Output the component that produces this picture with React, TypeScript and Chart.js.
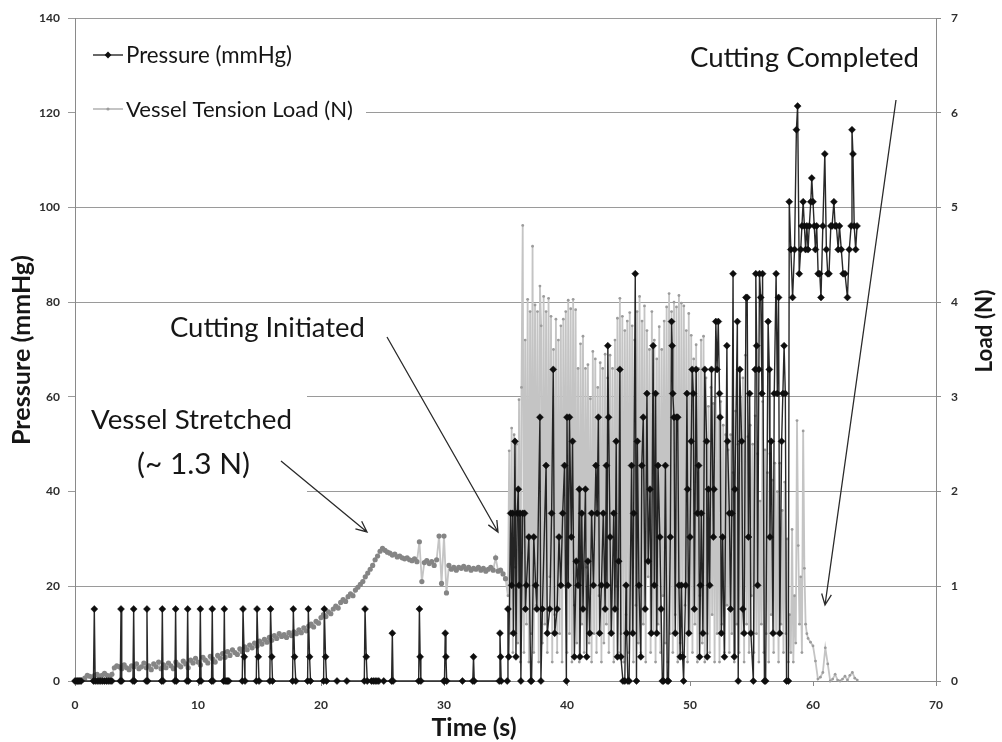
import React, { useEffect, useRef } from 'react';
import { Chart, registerables } from 'chart.js';

Chart.register(...registerables);

const FONT = 'Lato, "Open Sans", "DejaVu Sans", sans-serif';

// ---------- axes ----------
const X_MIN = 0;
const X_MAX = 70;
const X_STEP = 10;
const PRESSURE_MIN = 0;
const PRESSURE_MAX = 140;
const PRESSURE_STEP = 20;
const LOAD_MIN = 0;
const LOAD_MAX = 7;
const LOAD_STEP = 1;

const seriesLabels = ['Pressure (mmHg)', 'Vessel Tension Load (N)'];
const xTitle = 'Time (s)';
const yTitle = 'Pressure (mmHg)';
const y1Title = 'Load (N)';
const noteCompleted = 'Cutting Completed';
const noteInitiated = 'Cutting Initiated';
const noteStretched1 = 'Vessel Stretched';
const noteStretched2 = '(~ 1.3 N)';

// ---------- pressure (mmHg), [time s, value] ----------
const pressureBaseline: [number, number][] = [
  [0, 0], [0.1, 0], [0.2, 0], [0.3, 0], [0.4, 0], [0.5, 0],
  [1.5, 0], [1.57, 15.2], [1.64, 0], [1.8, 0], [1.95, 0], [2.1, 0], [2.25, 0], [2.4, 0], [2.55, 0], [2.7, 0], [2.85, 0], [3.0, 0],
  [3.68, 0], [3.74, 15.2], [3.8, 0],
  [4.71, 0], [4.77, 15.2], [4.83, 0],
  [5.79, 0], [5.85, 15.2], [5.91, 0],
  [7.04, 0], [7.1, 15.2], [7.16, 0],
  [8.12, 0], [8.18, 15.2], [8.24, 0],
  [9.1, 0], [9.16, 15.2], [9.22, 0],
  [10.13, 0], [10.19, 15.2], [10.25, 0],
  [11.1, 0], [11.16, 15.2], [11.22, 0],
  [12.08, 0], [12.14, 15.2], [12.2, 0], [12.3, 0], [12.4, 0], [12.5, 0],
  [13.6, 0], [13.66, 15.2], [13.76, 5.1], [13.82, 0],
  [14.74, 0], [14.8, 15.2], [14.9, 5.1], [14.96, 0],
  [15.84, 0], [15.9, 15.2], [16.0, 5.1], [16.06, 0],
  [17.69, 0], [17.75, 15.2], [17.85, 5.1], [17.95, 0],
  [18.91, 0], [18.97, 15.2], [19.07, 5.1], [19.15, 0],
  [20.21, 0], [20.27, 15.2], [20.37, 5.1], [20.45, 0],
  [21.3, 0], [22.1, 0],
  [23.52, 0], [23.58, 15.2], [23.68, 5.1], [23.76, 0],
  [24.1, 0], [24.25, 0], [24.4, 0], [24.55, 0], [24.7, 0], [25.1, 0],
  [25.74, 0], [25.8, 10.1], [25.86, 0],
  [27.94, 0], [28.0, 15.2], [28.06, 5.1], [28.12, 0],
  [29.98, 0], [30.04, 0], [30.1, 10.1], [30.16, 5.1], [30.22, 0],
  [31.5, 0],
  [32.34, 0], [32.4, 5.1], [32.46, 0],
  [34.49, 0], [34.55, 10.1], [34.6, 5.1], [34.65, 0],
  [35.14, 0], [35.2, 15.2], [35.26, 5.1],
];

const pressureCutting: [number, number][] = [
  [35.42, 35.4], [35.5, 20.2], [35.58, 35.4], [35.65, 10.1], [35.77, 50.6], [35.85, 5.1], [35.95, 35.4], [36.04, 40.5],
  [36.1, 20.2], [36.18, 35.4], [36.25, 0], [36.4, 35.4], [36.55, 35.4], [36.62, 15.2], [36.7, 20.2], [36.9, 30.4],
  [37.05, 0], [37.12, 0], [37.3, 30.4], [37.45, 20.2], [37.55, 15.2], [37.8, 55.7], [37.88, 0], [38.0, 15.2],
  [38.3, 45.5], [38.4, 10.1], [38.6, 15.2], [38.75, 35.4], [38.88, 65.8], [39.0, 10.1], [39.2, 15.2], [39.35, 30.4],
  [39.5, 20.2], [39.65, 35.4], [39.8, 45.5], [39.95, 0], [40.0, 55.7], [40.1, 20.2], [40.2, 55.7], [40.35, 30.4],
  [40.45, 50.6], [40.6, 5.1], [40.75, 25.3], [40.9, 20.2], [41.0, 40.5], [41.05, 5.1], [41.2, 35.4], [41.3, 15.2],
  [41.5, 40.5], [41.6, 5.1], [41.7, 25.3], [41.85, 10.1], [42.0, 35.4], [42.15, 20.2], [42.35, 45.5], [42.45, 35.4],
  [42.55, 55.7], [42.65, 10.1], [42.8, 20.2], [42.95, 35.4], [43.1, 15.2], [43.2, 45.5], [43.25, 20.2], [43.32, 70.8],
  [43.38, 55.7], [43.5, 30.4], [43.6, 10.1], [43.8, 35.4], [43.9, 15.2], [44.0, 50.6], [44.1, 5.1], [44.2, 25.3],
  [44.3, 65.8], [44.38, 5.1], [44.55, 0], [44.7, 0], [44.8, 20.2], [44.85, 10.1], [44.95, 0], [45.05, 0],
  [45.25, 45.5], [45.35, 10.1], [45.42, 35.4], [45.55, 86], [45.65, 0], [45.72, 50.6], [45.85, 20.2], [46.0, 5.1],
  [46.08, 45.5], [46.2, 55.7], [46.35, 15.2], [46.5, 60.7], [46.6, 25.3], [46.75, 40.5], [46.85, 10.1], [47.0, 70.8],
  [47.1, 20.2], [47.2, 60.7], [47.3, 10.1], [47.4, 45.5], [47.55, 30.4], [47.65, 15.2], [47.75, 0], [47.85, 0],
  [48.0, 45.5], [48.15, 0], [48.25, 0], [48.4, 30.4], [48.5, 75.9], [48.55, 70.8], [48.6, 60.7], [48.7, 55.7],
  [48.8, 10.1], [48.9, 55.7], [49.0, 55.7], [49.1, 20.2], [49.2, 5.1], [49.3, 20.2], [49.4, 5.1], [49.48, 0],
  [49.65, 20.2], [49.75, 60.7], [49.8, 40.5], [49.9, 10.1], [50.0, 30.4], [50.1, 50.6], [50.18, 65.8], [50.27, 60.7],
  [50.35, 15.2], [50.5, 65.8], [50.6, 35.4], [50.7, 45.5], [50.78, 5.1], [50.85, 20.2], [50.92, 35.4], [51.05, 10.1],
  [51.2, 65.8], [51.35, 50.6], [51.4, 5.1], [51.5, 40.5], [51.6, 20.2], [51.75, 65.8], [51.9, 30.4], [51.95, 40.5],
  [52.1, 75.9], [52.2, 65.8], [52.3, 75.9], [52.4, 60.7], [52.45, 55.7], [52.55, 10.1], [52.65, 30.4], [52.8, 5.1],
  [53.0, 70.8], [53.05, 50.6], [53.2, 35.4], [53.3, 15.2], [53.4, 35.4], [53.5, 86], [53.6, 5.1], [53.65, 40.5],
  [53.85, 75.9], [53.92, 0], [54.05, 65.8], [54.2, 50.6], [54.3, 15.2], [54.4, 10.1], [54.55, 81], [54.65, 81],
  [54.75, 30.4], [54.85, 60.7], [54.95, 10.1], [55.15, 0], [55.3, 65.8], [55.35, 86], [55.42, 70.8], [55.5, 20.2],
  [55.6, 65.8], [55.65, 86], [55.75, 81], [55.85, 60.7], [55.9, 86], [56.05, 0], [56.15, 0], [56.35, 75.9],
  [56.45, 65.8], [56.5, 30.4], [56.6, 50.6], [56.75, 10.1], [56.85, 60.7], [57.0, 86], [57.1, 60.7], [57.2, 81],
  [57.3, 10.1], [57.45, 50.6], [57.55, 60.7], [57.65, 70.8], [57.75, 60.7], [57.85, 0], [58.0, 0],
];

const pressureCompleted: [number, number][] = [
  [58.07, 101.2], [58.2, 91.1], [58.34, 81], [58.5, 91.1], [58.65, 116.4], [58.75, 121.4], [58.88, 86], [59.0, 91.1],
  [59.1, 96.1], [59.2, 101.2], [59.3, 96.1], [59.4, 91.1], [59.5, 96.1], [59.6, 91.1], [59.7, 96.1], [59.82, 101.2],
  [59.9, 106.2], [60.0, 101.2], [60.1, 96.1], [60.2, 91.1], [60.3, 96.1], [60.42, 86], [60.55, 86], [60.65, 81],
  [60.8, 96.1], [60.96, 111.3], [61.09, 91.1], [61.2, 86], [61.3, 86], [61.45, 96.1], [61.55, 96.1], [61.7, 101.2],
  [61.8, 96.1], [61.9, 96.1], [62.05, 91.1], [62.15, 96.1], [62.3, 91.1], [62.45, 86], [62.6, 86], [62.8, 81],
  [62.95, 91.1], [63.1, 96.1], [63.17, 116.4], [63.25, 111.3], [63.35, 96.1], [63.47, 91.1], [63.58, 96.1],
];

// ---------- vessel tension load (N), regularly sampled ----------
const loadRampStart = 0;
const loadRampStep = 0.2;
const loadRamp = [
  0, 0, 0.01, 0.01, 0.03, 0.06, 0.05, 0.04, 0.06, 0.07, 0.05, 0.06, 0.08, 0.06, 0.05, 0.07,
  0.14, 0.16, 0.15, 0.13, 0.17, 0.14, 0.12, 0.16, 0.15, 0.18,
  0.13, 0.15, 0.19, 0.14, 0.16, 0.12, 0.18, 0.15, 0.2, 0.13,
  0.17, 0.14, 0.19, 0.16, 0.13, 0.2, 0.17, 0.15, 0.21, 0.18,
  0.14, 0.22, 0.19, 0.24, 0.2, 0.17, 0.25, 0.22, 0.19, 0.26,
  0.23, 0.2, 0.27, 0.24, 0.29, 0.25, 0.31, 0.27, 0.33, 0.3,
  0.28, 0.34, 0.31, 0.36, 0.33, 0.38, 0.35, 0.4, 0.37, 0.42,
  0.39, 0.44, 0.41, 0.46, 0.43, 0.48, 0.45, 0.5, 0.47, 0.49,
  0.46, 0.51, 0.48, 0.52, 0.5, 0.54, 0.51, 0.56, 0.53, 0.58,
  0.6, 0.57, 0.63, 0.61, 0.67, 0.7, 0.68, 0.73, 0.71, 0.76,
  0.79, 0.77, 0.83, 0.86, 0.84, 0.89, 0.92, 0.9, 0.96, 0.99,
  1.02, 1.05, 1.1, 1.14, 1.18, 1.22, 1.28, 1.32, 1.37, 1.4,
  1.38, 1.36, 1.35, 1.33, 1.34, 1.31, 1.32, 1.3, 1.29, 1.3,
  1.28, 1.27, 1.29, 1.26, 1.47, 1.05, 1.25, 1.27, 1.24, 1.26,
  1.22, 1.28, 1.53, 1.03, 1.53, 0.93, 1.22, 1.18, 1.2, 1.17,
  1.2, 1.19, 1.21, 1.18, 1.2, 1.17, 1.19, 1.18, 1.2, 1.17,
  1.19, 1.16, 1.18, 1.2, 1.17, 1.3, 1.16, 1.17, 1.13, 1.08,
];

const loadCuttingStart = 35.2;
const loadCuttingStep = 0.1;
const loadCutting = [
  0.9, 2.43, 0.5, 2.67, 0.3, 2.6, 1.2, 2.5, 0.4, 2.97,
  0.2, 3.1, 4.81, 0.3, 3.6, 0.6, 4.03, 0.2, 3.9, 0.5,
  4.59, 0.3, 3.97, 0.8, 3.9, 0.2, 4.17, 3.75, 0.4, 4.06,
  0.6, 3.9, 0.3, 4.04, 1.1, 3.85, 0.2, 3.5, 0.7, 3.82,
  0.3, 3.6, 0.5, 3.75, 0.2, 3.82, 1.0, 3.9, 0.3, 4.02,
  0.5, 3.93, 0.2, 4.03, 0.8, 3.92, 0.4, 3.3, 0.2, 3.56,
  0.6, 3.64, 0.3, 3.3, 1.2, 3.34, 0.4, 2.98, 0.2, 3.48,
  0.5, 3.4, 0.3, 3.1, 0.9, 3.36, 0.2, 3.3, 0.4, 3.45,
  0.6, 3.2, 0.3, 3.44, 0.5, 3.3, 0.2, 3.6, 1.0, 3.83,
  0.3, 4.04, 0.5, 3.85, 0.2, 3.7, 0.7, 3.8, 0.3, 3.89,
  0.5, 3.75, 0.2, 3.6, 0.8, 3.9, 0.4, 4.06, 0.3, 3.8,
  0.6, 3.96, 0.2, 3.7, 1.1, 3.5, 0.3, 3.9, 0.5, 3.6,
  0.2, 3.4, 0.6, 3.74, 0.3, 3.5, 0.9, 3.8, 0.4, 3.95,
  0.2, 4.09, 0.5, 3.9, 0.3, 4.0, 0.7, 3.95, 0.2, 4.07,
  0.4, 3.99, 0.3, 3.96, 0.8, 3.7, 0.2, 3.88, 0.5, 3.65,
  0.3, 3.4, 0.6, 3.55, 0.2, 3.3, 0.9, 3.6, 0.4, 3.64,
  0.2, 3.2, 0.5, 2.9, 0.3, 3.1, 0.7, 2.93, 0.2, 3.0,
  0.5, 2.8, 0.2, 2.95, 0.6, 2.7, 0.3, 2.6, 0.8, 2.44,
  0.3, 2.6, 0.5, 2.2, 0.2, 2.85, 0.6, 2.5, 0.3, 3.0,
  0.5, 3.2, 0.2, 3.44, 0.6, 2.58, 0.3, 2.7, 0.9, 2.5,
  0.3, 2.8, 0.5, 2.4, 0.2, 1.9, 0.6, 2.95, 0.3, 2.44,
  0.5, 2.2, 0.2, 2.4, 0.7, 2.12, 0.3, 2.3, 0.5, 2.0,
  0.2, 2.3, 0.6, 1.8, 0.3, 2.1, 0.5, 1.5, 0.2, 0.7,
  0.3, 1.6, 0.2, 0.9, 0.4, 2.75, 1.43, 0.6, 1.1, 0.3,
  2.64, 1.19, 0.6, 0.5, 0.45,
];

const loadTailStart = 59.8;
const loadTailStep = 0.2;
const loadTail = [
  0.41, 0.37, 0.21, 0.02, 0.04, 0.09, 0.35, 0.18, 0.0, 0.02,
  0.07, 0.01, 0.0, 0.02, 0.05, 0.01, 0.06, 0.09, 0.03, 0.01,
];

// ---------- build points ----------
const toPts = (pairs: [number, number][]) => pairs.map(([x, y]) => ({ x, y }));
const sampled = (start: number, step: number, vals: number[]) =>
  vals.map((y, i) => ({ x: Math.round((start + i * step) * 1000) / 1000, y }));

const pressurePoints = [...toPts(pressureBaseline), ...toPts(pressureCutting), ...toPts(pressureCompleted)];
const loadPoints = [
  ...sampled(loadRampStart, loadRampStep, loadRamp),
  ...sampled(loadCuttingStart, loadCuttingStep, loadCutting),
  ...sampled(loadTailStart, loadTailStep, loadTail),
];

const GRID = '#9a9a9a';
const AXIS = '#8a8a8a';
const TICK_TEXT = '#2e2e2e';
const TEXT = '#161616';
const PRESSURE_LINE = 'rgba(22,22,22,0.92)';
const PRESSURE_MARK = '#0e0e0e';
const LOAD_LINE = '#c4c4c4';
const LOAD_MARK_RAMP = '#858585';
const LOAD_MARK_CUT = '#9c9c9c';

function fitFont(ctx: CanvasRenderingContext2D, text: string, width: number, weight: string) {
  ctx.font = `${weight} 20px ${FONT}`;
  const w = ctx.measureText(text).width || 1;
  const size = (20 * width) / w;
  ctx.font = `${weight} ${size.toFixed(2)}px ${FONT}`;
}

function arrow(ctx: CanvasRenderingContext2D, x1: number, y1: number, x2: number, y2: number) {
  const ang = Math.atan2(y2 - y1, x2 - x1);
  const head = 12;
  const spread = 0.42;
  ctx.beginPath();
  ctx.moveTo(x1, y1);
  ctx.lineTo(x2, y2);
  ctx.moveTo(x2 - head * Math.cos(ang - spread), y2 - head * Math.sin(ang - spread));
  ctx.lineTo(x2, y2);
  ctx.lineTo(x2 - head * Math.cos(ang + spread), y2 - head * Math.sin(ang + spread));
  ctx.stroke();
}

function diamond(ctx: CanvasRenderingContext2D, x: number, y: number, r: number) {
  ctx.beginPath();
  ctx.moveTo(x - r, y);
  ctx.lineTo(x, y - r);
  ctx.lineTo(x + r, y);
  ctx.lineTo(x, y + r);
  ctx.closePath();
  ctx.fill();
}

const overlayPlugin = {
  id: 'overlay',
  afterDraw(chart: any) {
    const ctx: CanvasRenderingContext2D = chart.ctx;
    ctx.save();

    // white label boxes (hide gridlines behind them)
    ctx.fillStyle = '#ffffff';
    ctx.fillRect(76, 28, 290, 100);
    ctx.fillRect(76, 390, 231, 106);

    // legend
    ctx.lineWidth = 1.4;
    ctx.strokeStyle = PRESSURE_LINE;
    ctx.beginPath();
    ctx.moveTo(93, 55);
    ctx.lineTo(123, 55);
    ctx.stroke();
    ctx.fillStyle = PRESSURE_MARK;
    diamond(ctx, 108, 55, 3.4);
    ctx.strokeStyle = LOAD_LINE;
    ctx.lineWidth = 2;
    ctx.beginPath();
    ctx.moveTo(93, 109);
    ctx.lineTo(123, 109);
    ctx.stroke();
    ctx.fillStyle = LOAD_MARK_CUT;
    ctx.beginPath();
    ctx.arc(108, 109, 1.6, 0, Math.PI * 2);
    ctx.fill();

    ctx.fillStyle = TEXT;
    ctx.textAlign = 'left';
    ctx.textBaseline = 'alphabetic';
    fitFont(ctx, seriesLabels[0], 166, 'normal');
    ctx.fillText(seriesLabels[0], 126, 63);
    fitFont(ctx, seriesLabels[1], 227, 'normal');
    ctx.fillText(seriesLabels[1], 126, 117);

    // annotations
    fitFont(ctx, noteCompleted, 229, 'normal');
    ctx.fillText(noteCompleted, 690, 67);
    fitFont(ctx, noteInitiated, 195, 'normal');
    ctx.fillText(noteInitiated, 170, 337);
    fitFont(ctx, noteStretched1, 201, 'normal');
    ctx.fillText(noteStretched1, 91, 429);
    fitFont(ctx, noteStretched2, 113, 'normal');
    ctx.fillText(noteStretched2, 137, 474);

    ctx.strokeStyle = '#2a2a2a';
    ctx.lineWidth = 1.3;
    arrow(ctx, 281, 461, 367, 532);
    arrow(ctx, 387, 337, 498, 532);
    arrow(ctx, 896, 100, 825, 605);

    // axis titles
    ctx.fillStyle = TEXT;
    ctx.textAlign = 'center';
    fitFont(ctx, xTitle, 85, 'bold');
    ctx.fillText(xTitle, 474, 736);

    ctx.textBaseline = 'middle';
    ctx.save();
    ctx.translate(22, 350);
    ctx.rotate(-Math.PI / 2);
    fitFont(ctx, yTitle, 190, 'bold');
    ctx.fillText(yTitle, 0, 0);
    ctx.restore();

    ctx.save();
    ctx.translate(985, 331);
    ctx.rotate(-Math.PI / 2);
    fitFont(ctx, y1Title, 83, 'bold');
    ctx.fillText(y1Title, 0, 0);
    ctx.restore();

    ctx.restore();
  },
};

export default function App() {
  const ref = useRef<HTMLCanvasElement | null>(null);

  useEffect(() => {
    const canvas = ref.current;
    if (!canvas) return;
    let chart: Chart | null = null;
    let cancelled = false;

    const build = () => {
      if (cancelled) return;
      const tickFont = { family: FONT, weight: 'bold' as const, size: 12 };
      const inRamp = (c: any) => c.raw && c.raw.x < loadCuttingStart;
      chart = new Chart(canvas, {
        type: 'line',
        data: {
          datasets: [
            {
              label: seriesLabels[0],
              data: pressurePoints,
              yAxisID: 'y',
              borderColor: PRESSURE_LINE,
              borderWidth: 1.4,
              pointStyle: 'rectRot',
              pointRadius: 3.5,
              pointBackgroundColor: PRESSURE_MARK,
              pointBorderColor: PRESSURE_MARK,
              pointBorderWidth: 0.5,
              tension: 0,
              clip: 8,
            },
            {
              label: seriesLabels[1],
              data: loadPoints,
              yAxisID: 'y1',
              borderColor: LOAD_LINE,
              borderWidth: 1.8,
              pointStyle: 'circle',
              pointRadius: (c: any) => (inRamp(c) ? 2.6 : 1.4),
              pointBackgroundColor: (c: any) => (inRamp(c) ? LOAD_MARK_RAMP : LOAD_MARK_CUT),
              pointBorderColor: (c: any) => (inRamp(c) ? LOAD_MARK_RAMP : LOAD_MARK_CUT),
              pointBorderWidth: 0,
              tension: 0,
              clip: 8,
            },
          ],
        },
        options: {
          animation: false,
          responsive: false,
          maintainAspectRatio: false,
          events: [],
          layout: { padding: { top: 18, left: 0, right: 0, bottom: 0 } },
          plugins: {
            legend: { display: false },
            tooltip: { enabled: false },
            title: { display: false },
          },
          scales: {
            x: {
              type: 'linear',
              min: X_MIN,
              max: X_MAX,
              ticks: { stepSize: X_STEP, font: tickFont, color: TICK_TEXT, padding: 12, maxRotation: 0 },
              grid: { drawOnChartArea: false, drawTicks: true, tickLength: 5, color: AXIS },
              border: { color: AXIS, width: 1 },
              afterFit: (s: any) => { s.height = 61; },
            },
            y: {
              type: 'linear',
              position: 'left',
              min: PRESSURE_MIN,
              max: PRESSURE_MAX,
              ticks: { stepSize: PRESSURE_STEP, font: tickFont, color: TICK_TEXT, padding: 8 },
              grid: { color: GRID, lineWidth: 1, drawTicks: true, tickLength: 7 },
              border: { color: AXIS, width: 1 },
              afterFit: (s: any) => { s.width = 75; },
            },
            y1: {
              type: 'linear',
              position: 'right',
              min: LOAD_MIN,
              max: LOAD_MAX,
              ticks: { stepSize: LOAD_STEP, font: tickFont, color: TICK_TEXT, padding: 10 },
              grid: { drawOnChartArea: false, drawTicks: true, tickLength: 5, color: AXIS },
              border: { color: AXIS, width: 1 },
              afterFit: (s: any) => { s.width = 66; },
            },
          },
        },
        plugins: [overlayPlugin],
      });
    };

    const fontsReady = (document as any).fonts?.load
      ? Promise.all([
          (document as any).fonts.load(`bold 12px Lato`),
          (document as any).fonts.load(`20px Lato`),
        ]).catch(() => null)
      : Promise.resolve(null);
    fontsReady.then(build);

    return () => {
      cancelled = true;
      if (chart) chart.destroy();
    };
  }, []);

  return (
    <div style={{ position: 'absolute', left: 0, top: 0, width: 1002, height: 742, background: '#fff' }}>
      <canvas ref={ref} width={1002} height={742} style={{ display: 'block', width: 1002, height: 742 }} />
    </div>
  );
}
